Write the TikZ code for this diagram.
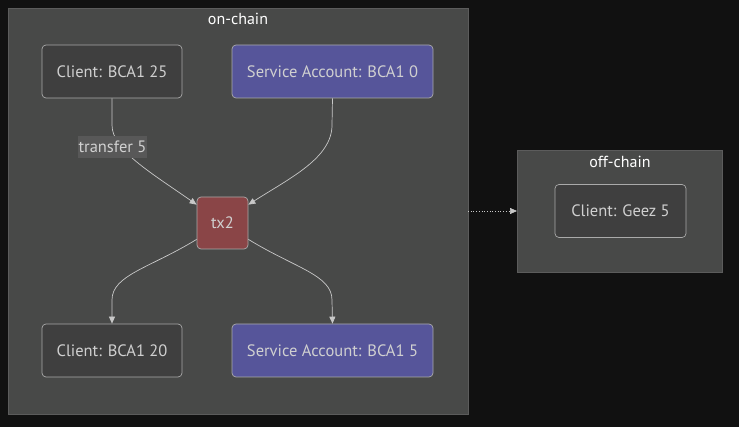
\documentclass[tikz,border=0pt]{standalone}
\usepackage{fontspec}
\setmainfont{PT Sans}
\usetikzlibrary{arrows.meta,calc}
\definecolor{bgc}{HTML}{111111}
\definecolor{clusterfill}{HTML}{484948}
\definecolor{clusterline}{HTML}{5C5C5C}
\definecolor{nodefill}{HTML}{3F3F3F}
\definecolor{nodeline}{HTML}{AAAAAA}
\definecolor{svcfill}{HTML}{56559A}
\definecolor{txfill}{HTML}{8A4547}
\definecolor{txtc}{HTML}{D0D0D0}
\definecolor{edgec}{HTML}{C8C8C8}
\definecolor{lblfill}{HTML}{585858}
\tikzset{
  cluster/.style={draw=clusterline, fill=clusterfill, line width=0.8pt},
  ctitle/.style={text=white, font=\fontsize{16}{18}\selectfont},
  acct/.style={draw=nodeline, fill=nodefill, rounded corners=4pt, line width=0.7pt,
    text=txtc, font=\fontsize{16.5}{18}\selectfont, minimum height=53pt, inner sep=0pt},
  svc/.style={acct, fill=svcfill},
  txbox/.style={acct, fill=txfill, minimum width=51pt, minimum height=52pt},
  edge/.style={draw=edgec, line width=0.7pt, -{Triangle[length=7pt,width=6pt]}},
  elabel/.style={fill=lblfill, text=txtc, font=\fontsize{16.5}{18}\selectfont, inner sep=1pt, minimum height=22pt, minimum width=69pt}
}
\begin{document}
\begin{tikzpicture}[x=1pt,y=-1pt]
\fill[bgc] (0,0) rectangle (739,427);
\useasboundingbox (0,0) rectangle (739,427);
% clusters
\draw[cluster] (8,8) rectangle (468,414);
\node[ctitle] (ontitle) at (238,19) {on-chain};
\draw[cluster] (517,150) rectangle (722,272);
\node[ctitle] (offtitle) at (620,162) {off-chain};
% nodes
\node[acct, minimum width=140pt] (c25) at (112,71.5) {Client: BCA1 25};
\node[svc, minimum width=201pt] (s0) at (332.5,71.5) {Service Account: BCA1 0};
\node[txbox] (tx2) at (222.5,223) {tx2};
\node[acct, minimum width=140pt] (c20) at (112,350.5) {Client: BCA1 20};
\node[svc, minimum width=201pt] (s5) at (332.5,350.5) {Service Account: BCA1 5};
\node[acct, minimum width=131pt] (geez) at (620.5,211) {Client: Geez 5};
% anchors for the invisible cluster-to-cluster link
\coordinate (onr) at (468,211);
\coordinate (offl) at (517,211);
% edges
\draw[edge] (c25.south) -- (112,125) .. controls (112,150) and (150,172) .. ($(tx2.north west)+(0,8)$);
\node[elabel] (lbl) at (112.5,147) {transfer 5};
\draw[edge] (s0.south) -- (332,125) .. controls (332,158) and (290,178) .. ($(tx2.north east)+(0,8)$);
\draw[edge] ($(tx2.south west)+(0,-10)$) .. controls (150,268) and (112,275) .. (112,300) -- (c20.north);
\draw[edge] ($(tx2.south east)+(0,-10)$) .. controls (295,268) and (332,275) .. (332,300) -- (s5.north);
\draw[edge, dotted] (onr) -- (offl);
\end{tikzpicture}
\end{document}
